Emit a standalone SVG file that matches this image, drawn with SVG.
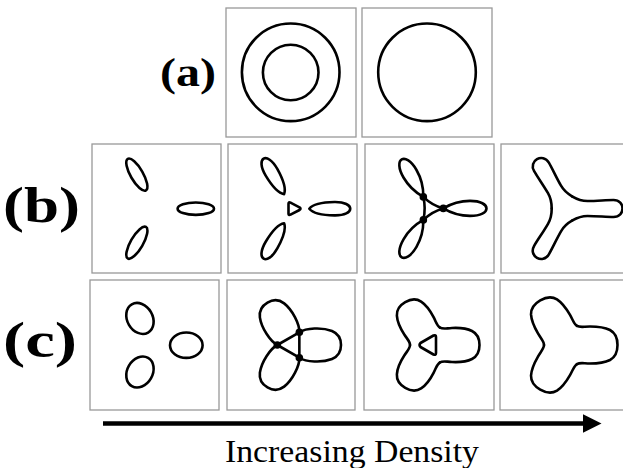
<svg xmlns="http://www.w3.org/2000/svg" xmlns:xlink="http://www.w3.org/1999/xlink" width="623" height="468" viewBox="0 0 623 468">
<style>
.box{fill:#fff;stroke:#999;stroke-width:1.3}
.crv{fill:none;stroke:#000;stroke-width:2.6;stroke-linejoin:round;stroke-linecap:round}
.dot{fill:#000}
</style>
<defs>
<path id="petalB2" d="M16.8,0 C20,-4 30,-6.5 42,-6.7 C63,-7 63,7 42,6.7 C30,6.5 20,4 16.8,0 Z"/>
<path id="lobeB3" d="M13.3,0 C20,-4 28,-7.5 40,-7.5 C62,-7.5 62,7.5 40,7.5 C28,7.5 20,4 13.3,0 Z"/>
<path id="armB4" d="M6.9,-11.95 C11.2,-9.45 15,-7.5 22,-7.5 C32,-7.5 40,-8.5 48,-8.5 C60,-8.5 60,8.5 48,8.5 C40,8.5 32,7.5 22,7.5 C15,7.5 11.2,9.45 6.9,11.95"/>
<path id="lobeC2" d="M7.35,-12.73 C14,-17 30,-18 40,-14 C52,-9 52,9 40,14 C30,18 14,17 7.35,12.73"/>
<path id="armC3" d="M10,-17.3 C13,-15.6 16,-16.7 22,-17 C32,-17.5 38,-16 42,-14 C52,-9 52,9 42,14 C38,16 32,17.5 22,17 C16,16.7 13,15.6 10,17.3"/>
<path id="armC4" d="M11,-19.05 C14,-17.3 18,-18.5 24,-18.5 C34,-18.5 40,-17 44,-15 C54,-9.5 54,9.5 44,15 C40,17 34,18.5 24,18.5 C18,18.5 14,17.3 11,19.05"/>
</defs>

<g id="label-a"><text font-family="'Liberation Serif', 'DejaVu Serif', serif" font-weight="bold" font-size="39" x="160" y="86" textLength="56" lengthAdjust="spacingAndGlyphs">(a)</text></g>
<g id="label-b"><text font-family="'Liberation Serif', 'DejaVu Serif', serif" font-weight="bold" font-size="50" x="3" y="222" textLength="77" lengthAdjust="spacingAndGlyphs">(b)</text></g>
<g id="label-c"><text font-family="'Liberation Serif', 'DejaVu Serif', serif" font-weight="bold" font-size="50" x="3" y="357" textLength="74" lengthAdjust="spacingAndGlyphs">(c)</text></g>

<g id="a1">
<rect class="box" x="226" y="8" width="130" height="129"/>
<circle class="crv" cx="290.7" cy="72.3" r="48.8"/>
<circle class="crv" cx="290.7" cy="72.5" r="27.8"/>
</g>
<g id="a2">
<rect class="box" x="362" y="8" width="130" height="129"/>
<circle class="crv" cx="427" cy="72.3" r="48.8"/>
</g>

<g id="b1">
<rect class="box" x="92" y="144" width="129" height="129"/>
<g transform="translate(156.5,208.7)">
<ellipse class="crv" cx="39.3" cy="0" rx="18.2" ry="6.2"/>
<ellipse class="crv" cx="39.3" cy="0" rx="18.2" ry="6.2" transform="rotate(-120)"/>
<ellipse class="crv" cx="39.3" cy="0" rx="18.2" ry="6.2" transform="rotate(120)"/>
</g>
</g>
<g id="b2">
<rect class="box" x="228" y="144" width="129" height="129"/>
<g transform="translate(292.5,208.7)">
<use xlink:href="#petalB2" href="#petalB2" class="crv"/>
<use xlink:href="#petalB2" href="#petalB2" class="crv" transform="rotate(-120)"/>
<use xlink:href="#petalB2" href="#petalB2" class="crv" transform="rotate(120)"/>
<path class="crv" d="M-4,-5 Q-4,-7 -2,-6 L7,-1.3 Q9,0 7,1.3 L-2,6 Q-4,7 -4,5 Z"/>
</g>
</g>
<g id="b3">
<rect class="box" x="365" y="144" width="129" height="129"/>
<g transform="translate(430,208.4)">
<use xlink:href="#lobeB3" href="#lobeB3" class="crv"/>
<use xlink:href="#lobeB3" href="#lobeB3" class="crv" transform="rotate(-120)"/>
<use xlink:href="#lobeB3" href="#lobeB3" class="crv" transform="rotate(120)"/>
<path class="crv" d="M13.3,0 Q2,-3 -6.65,-11.52 Q-4,0 -6.65,11.52 Q2,3 13.3,0 Z"/>
<circle class="dot" cx="13.3" cy="0" r="3.8"/>
<circle class="dot" cx="-6.65" cy="-11.52" r="3.8"/>
<circle class="dot" cx="-6.65" cy="11.52" r="3.8"/>
</g>
</g>
<g id="b4">
<rect class="box" x="501" y="144" width="129" height="129"/>
<g transform="translate(565.5,208.5)">
<use xlink:href="#armB4" href="#armB4" class="crv"/>
<use xlink:href="#armB4" href="#armB4" class="crv" transform="rotate(-120)"/>
<use xlink:href="#armB4" href="#armB4" class="crv" transform="rotate(120)"/>
</g>
</g>

<g id="c1">
<rect class="box" x="90" y="280" width="129" height="130"/>
<g transform="translate(155.4,345.2)">
<ellipse class="crv" cx="30.9" cy="0" rx="16.3" ry="12.7"/>
<ellipse class="crv" cx="30.9" cy="0" rx="16.3" ry="12.7" transform="rotate(-120)"/>
<ellipse class="crv" cx="30.9" cy="0" rx="16.3" ry="12.7" transform="rotate(120)"/>
</g>
</g>
<g id="c2">
<rect class="box" x="227" y="280" width="128" height="130"/>
<g transform="translate(292,345)">
<use xlink:href="#lobeC2" href="#lobeC2" class="crv"/>
<use xlink:href="#lobeC2" href="#lobeC2" class="crv" transform="rotate(-120)"/>
<use xlink:href="#lobeC2" href="#lobeC2" class="crv" transform="rotate(120)"/>
<path class="crv" d="M-14.7,0 L7.35,-12.73 L7.35,12.73 Z"/>
<circle class="dot" cx="-14.7" cy="0" r="3.8"/>
<circle class="dot" cx="7.35" cy="-12.73" r="3.8"/>
<circle class="dot" cx="7.35" cy="12.73" r="3.8"/>
</g>
</g>
<g id="c3">
<rect class="box" x="364" y="280" width="130" height="130"/>
<g transform="translate(430,345)">
<use xlink:href="#armC3" href="#armC3" class="crv"/>
<use xlink:href="#armC3" href="#armC3" class="crv" transform="rotate(-120)"/>
<use xlink:href="#armC3" href="#armC3" class="crv" transform="rotate(120)"/>
<path class="crv" d="M-9.5,-2 Q-11.5,0 -9.5,2 L3.5,9.5 Q6,10.5 6,8 L6,-8 Q6,-10.5 3.5,-9.5 Z"/>
</g>
</g>
<g id="c4">
<rect class="box" x="500" y="280" width="130" height="130"/>
<g transform="translate(566,345)">
<use xlink:href="#armC4" href="#armC4" class="crv"/>
<use xlink:href="#armC4" href="#armC4" class="crv" transform="rotate(-120)"/>
<use xlink:href="#armC4" href="#armC4" class="crv" transform="rotate(120)"/>
</g>
</g>

<g id="connectors">
<line x1="103" y1="423.5" x2="586" y2="423.5" stroke="#000" stroke-width="4.6"/>
<polygon points="583,414.3 601.5,423.5 583,432.7" fill="#000"/>
</g>
<g id="caption"><text font-family="'Liberation Serif', 'DejaVu Serif', serif" font-size="32" x="225" y="462" textLength="254" lengthAdjust="spacingAndGlyphs">Increasing Density</text></g>
</svg>
